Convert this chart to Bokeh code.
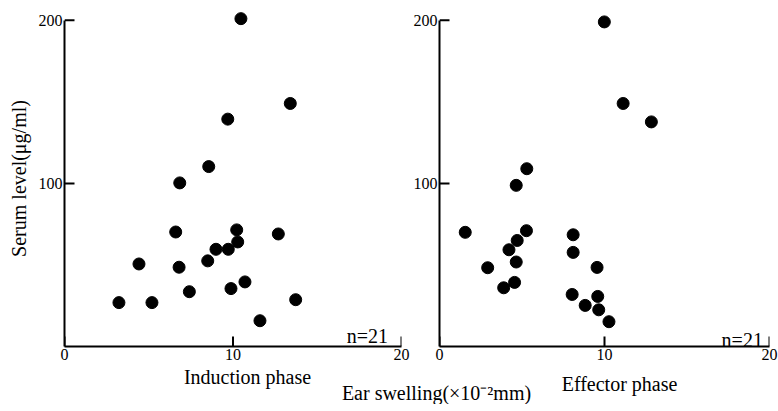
from bokeh.plotting import figure
from bokeh.layouts import row, column
from bokeh.models import Range1d, FixedTicker, Label
from bokeh.embed import file_html
from bokeh.resources import INLINE

# Induction phase: ear swelling (x10^-2 mm) vs serum level (ug/ml)
ind_x = [10.47, 13.4, 9.69, 8.56, 6.84, 6.6, 10.22, 12.69, 10.28, 8.99, 9.72,
         8.5, 4.42, 6.8, 10.71, 9.88, 7.41, 13.72, 3.23, 5.19, 11.6]
ind_y = [201, 149, 139.4, 110.3, 100.3, 70.2, 71.5, 69, 64.1, 59.6, 59.6,
         52.5, 50.6, 48.6, 39.6, 35.5, 33.6, 28.7, 26.9, 26.9, 15.8]
# Effector phase
eff_x = [9.99, 11.13, 12.84, 5.29, 4.65, 1.56, 5.27, 8.1, 4.71, 4.21, 8.1,
         2.92, 9.55, 4.65, 4.55, 3.89, 8.04, 9.59, 8.83, 9.65, 10.27]
eff_y = [199, 149, 137.7, 109, 98.8, 70, 71, 68.5, 65, 59.3, 57.7,
         48.3, 48.5, 51.8, 39.3, 36, 31.9, 30.7, 25.2, 22.5, 15.2]

x_ticks = [0, 10, 20]
y_ticks = [100, 200]
FONT = "Liberation Serif"
X_MAX, Y_MAX, Y_TOP = 20, 200, 206
FRAME_H = 336
TICK_PX = 10


def panel(xs, ys, frame_w, b_left, b_right, n_x, n_y, ylabel=None):
    p = figure(frame_width=frame_w, frame_height=FRAME_H,
               x_range=Range1d(0, X_MAX), y_range=Range1d(0, Y_TOP),
               output_backend="svg", toolbar_location=None,
               min_border_left=b_left, min_border_right=b_right,
               min_border_top=10, min_border_bottom=20)
    p.grid.visible = False
    p.outline_line_color = None
    p.background_fill_color = "white"
    p.border_fill_color = "white"
    for ax, ticks, bounds in ((p.xaxis[0], x_ticks, (0, X_MAX)), (p.yaxis[0], y_ticks, (0, Y_MAX))):
        ax.ticker = FixedTicker(ticks=ticks)
        ax.bounds = bounds
        ax.minor_tick_line_color = None
        ax.major_tick_in = 0
        ax.major_tick_out = 0
        ax.axis_line_width = 2
        ax.axis_line_color = "black"
        ax.major_label_text_font = FONT
        ax.major_label_text_font_size = "16px"
        ax.major_label_text_color = "black"
        ax.major_label_standoff = 2
    if ylabel:
        p.yaxis[0].axis_label = ylabel
        p.yaxis[0].axis_label_text_font = FONT
        p.yaxis[0].axis_label_text_font_size = "20px"
        p.yaxis[0].axis_label_text_font_style = "normal"
        p.yaxis[0].axis_label_text_color = "black"
        p.yaxis[0].axis_label_standoff = 6
    # inward tick marks (length converted from pixels to data units)
    dy = TICK_PX * Y_TOP / FRAME_H
    dx = TICK_PX * X_MAX / frame_w
    p.segment(x0=x_ticks, y0=[0] * len(x_ticks), x1=x_ticks, y1=[dy] * len(x_ticks),
              line_color="black", line_width=2)
    p.segment(x0=[0] * len(y_ticks), y0=y_ticks, x1=[dx] * len(y_ticks), y1=y_ticks,
              line_color="black", line_width=2)
    p.scatter(xs, ys, size=12, color="black")
    p.add_layout(Label(x=n_x, y=n_y, text="n=21", text_align="right",
                       text_baseline="alphabetic", text_font=FONT, text_font_size="20px",
                       text_color="black"))
    return p


f1 = panel(ind_x, ind_y, 337, 64, 9, 19.2, 6.5, ylabel="Serum level(\u03bcg/ml)")
f2 = panel(eff_x, eff_y, 330, 27, 10, 19.6, 4.0)

f3 = figure(width=777, height=38, x_range=Range1d(0, 777), y_range=Range1d(0, 38),
            output_backend="svg", toolbar_location=None, title=None,
            min_border=0, min_border_left=0, min_border_right=0,
            min_border_top=0, min_border_bottom=0)
f3.axis.visible = False
f3.grid.visible = False
f3.outline_line_color = None
for txt, lx, ly, base, size in (("Induction phase", 247, 28, "middle", "20px"),
                                ("Effector phase", 619, 21, "middle", "20px"),
                                ("Ear swelling(\u00d710\u207b\u00b2mm)", 436, 12, "middle", "20px")):
    f3.add_layout(Label(x=lx, y=ly, text=txt, text_align="center", text_baseline=base,
                        text_font=FONT, text_font_size=size, text_color="black"))

layout = column(row(f1, f2), f3)
open("out.html", "w").write(file_html(layout, INLINE))
